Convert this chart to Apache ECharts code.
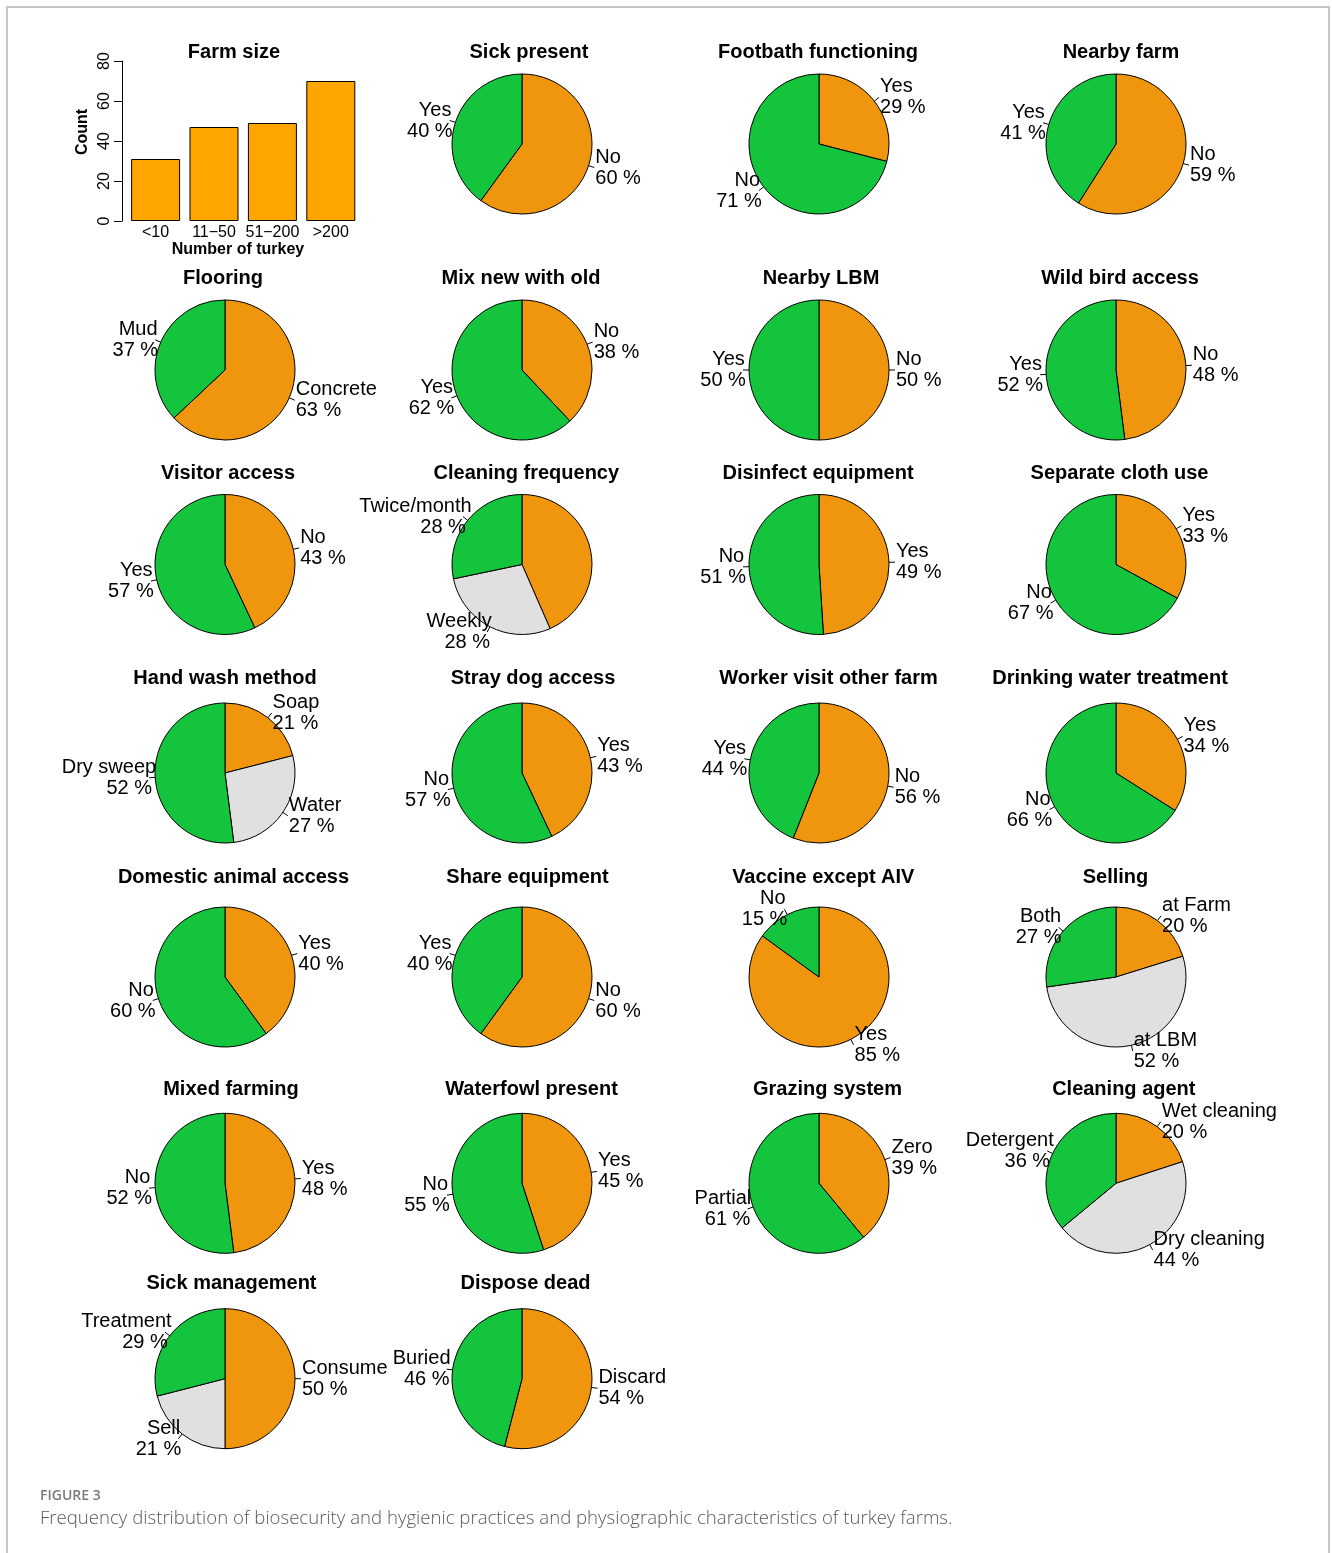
<!DOCTYPE html>
<html>
<head>
<meta charset="utf-8">
<title>Figure 3</title>
<script src="https://cdn.jsdelivr.net/npm/echarts@6/dist/echarts.min.js"></script>
<style>
    html, body { margin: 0; padding: 0; background: #fff; }
    #main { width: 1332px; height: 1553px; }
</style>
</head>
<body>
<div id="main"></div>
<script>
// 农场规模柱状图数据
var sizeCats = ['<10', '11\u221250', '51\u2212200', '>200'];
var sizeCounts = [31, 47, 49, 70];
var sizeTicks = [0, 20, 40, 60, 80];

// 饼图数据（按顺时针顺序：橙色在前，灰色其次，绿色最后）
var pieTitles = [
    'Sick present', 'Footbath functioning', 'Nearby farm',
    'Flooring', 'Mix new with old', 'Nearby LBM', 'Wild bird access',
    'Visitor access', 'Cleaning frequency', 'Disinfect equipment', 'Separate cloth use',
    'Hand wash method', 'Stray dog access', 'Worker visit other farm', 'Drinking water treatment',
    'Domestic animal access', 'Share equipment', 'Vaccine except AIV', 'Selling',
    'Mixed farming', 'Waterfowl present', 'Grazing system', 'Cleaning agent',
    'Sick management', 'Dispose dead'
];
var pieNames = [
    ['No', 'Yes'], ['Yes', 'No'], ['No', 'Yes'],
    ['Concrete', 'Mud'], ['No', 'Yes'], ['No', 'Yes'], ['No', 'Yes'],
    ['No', 'Yes'], ['Twice/week', 'Weekly', 'Twice/month'], ['Yes', 'No'], ['Yes', 'No'],
    ['Soap', 'Water', 'Dry sweep'], ['Yes', 'No'], ['No', 'Yes'], ['Yes', 'No'],
    ['Yes', 'No'], ['No', 'Yes'], ['Yes', 'No'], ['at Farm', 'at LBM', 'Both'],
    ['Yes', 'No'], ['Yes', 'No'], ['Zero', 'Partial'], ['Wet cleaning', 'Dry cleaning', 'Detergent'],
    ['Consume', 'Sell', 'Treatment'], ['Discard', 'Buried']
];
var pieValues = [
    [60, 40], [29, 71], [59, 41],
    [63, 37], [38, 62], [50, 50], [48, 52],
    [43, 57], [43, 28, 28], [49, 51], [33, 67],
    [21, 27, 52], [43, 57], [56, 44], [34, 66],
    [40, 60], [60, 40], [85, 15], [20, 52, 27],
    [48, 52], [45, 55], [39, 61], [20, 44, 36],
    [50, 21, 29], [54, 46]
];

// 版面位置（第一个格子是柱状图）
var colX = [225, 522, 819, 1116];
var rowY = [144, 370, 564.5, 773, 977, 1183.3, 1378.7];
var titleY = [52, 278, 473, 678, 877, 1089, 1283];
var titleX = [
    234, 529, 818, 1121,
    223, 521, 821, 1120,
    228, 526.3, 818, 1119.5,
    225, 533, 828.5, 1110,
    233.5, 527.5, 823.3, 1115.5,
    231, 531.5, 827.5, 1123.8,
    231.5, 525.5
];

var ORANGE = '#F0960E', GREEN = '#14C43C', GREY = '#E0E0E0';
var FONT = '"Liberation Sans", Arial, Helvetica, sans-serif';
var OVER = 0.085; // 左侧标签的字宽偏差（原图右对齐文字略微越过锚点）

var measureCtx = document.createElement('canvas').getContext('2d');
measureCtx.font = '20px ' + FONT;
function textW(s) {
    return measureCtx.measureText(s).width;
}

var chart = echarts.init(document.getElementById('main'), null, {renderer: 'canvas'});

var series = [];
var graphics = [];

// 外框
graphics.push({
    type: 'rect',
    shape: {x: 7, y: 7, width: 1322, height: 1570},
    style: {fill: 'none', stroke: '#c6c6c6', lineWidth: 2},
    silent: true
});

// 柱状图
series.push({
    type: 'bar',
    data: sizeCounts,
    barWidth: 49,
    itemStyle: {color: '#FFA500', borderColor: '#000', borderWidth: 1},
    emphasis: {disabled: true}
});

// 饼图
for (var i = 0; i < pieTitles.length; i++) {
    var cell = i + 1;
    var col = cell % 4, row = Math.floor(cell / 4);
    var cols = pieNames[i].length == 3 ? [ORANGE, GREY, GREEN] : [ORANGE, GREEN];
    var total = 0;
    for (var t = 0; t < pieValues[i].length; t++) total += pieValues[i][t];
    var cum = 0;
    var d = [];
    for (var j = 0; j < pieNames[i].length; j++) {
        var v = pieValues[i][j];
        var mid = (cum + v / 2) / total;
        cum += v;
        var item = {name: pieNames[i][j], value: v, itemStyle: {color: cols[j]}};
        if (mid > 0.5) {
            // 左侧：模拟原图的右对齐偏差
            var w1 = textW(pieNames[i][j]), w2 = textW(v + ' %');
            var wm = Math.max(w1, w2);
            item.label = {
                formatter: '{a|' + pieNames[i][j] + '}\n{b|' + v + ' %}',
                distanceToLabelLine: 1 - OVER * wm,
                rich: {
                    a: {fontFamily: FONT, fontSize: 20, lineHeight: 21, color: '#000', padding: [0, OVER * (wm - w1), 0, 0]},
                    b: {fontFamily: FONT, fontSize: 20, lineHeight: 21, color: '#000', padding: [0, OVER * (wm - w2), 0, 0]}
                }
            };
        }
        d.push(item);
    }
    series.push({
        type: 'pie',
        center: [colX[col], rowY[row]],
        radius: 70,
        startAngle: 90,
        clockwise: true,
        avoidLabelOverlap: false,
        label: {
            show: true,
            position: 'outside',
            formatter: '{b}\n{c} %',
            fontFamily: FONT,
            fontSize: 20,
            lineHeight: 21,
            color: '#000',
            distanceToLabelLine: 1
        },
        labelLine: {show: true, length: 6, length2: 0, lineStyle: {color: '#000', width: 1}},
        itemStyle: {borderColor: '#000', borderWidth: 1},
        emphasis: {disabled: true},
        data: d
    });
}

// 标题
graphics.push({
    type: 'text', x: titleX[0], y: titleY[0], silent: true,
    style: {text: 'Farm size', font: 'bold 20px ' + FONT, fill: '#000', align: 'center', verticalAlign: 'middle'}
});
for (var k = 0; k < pieTitles.length; k++) {
    var c = k + 1;
    graphics.push({
        type: 'text', x: titleX[c], y: titleY[Math.floor(c / 4)], silent: true,
        style: {text: pieTitles[k], font: 'bold 20px ' + FONT, fill: '#000', align: 'center', verticalAlign: 'middle'}
    });
}

// 柱状图坐标轴标题
graphics.push({
    type: 'text', x: 238, y: 250, silent: true,
    style: {text: 'Number of turkey', font: 'bold 16px ' + FONT, fill: '#000', align: 'center', verticalAlign: 'middle'}
});
graphics.push({
    type: 'text', x: 83, y: 132, rotation: Math.PI / 2, silent: true,
    style: {text: 'Count', font: 'bold 16px ' + FONT, fill: '#000', align: 'center', verticalAlign: 'middle'}
});

// 图注
graphics.push({
    type: 'text', x: 40, y: 1496, silent: true,
    style: {text: 'FIGURE 3', font: '600 14px "Open Sans", sans-serif', fill: '#7a7a7a', align: 'left', verticalAlign: 'middle'}
});
graphics.push({
    type: 'text', x: 40, y: 1519, silent: true,
    style: {
        text: 'Frequency distribution of biosecurity and hygienic practices and physiographic characteristics of turkey farms.',
        font: '300 18.6px "Open Sans", sans-serif', fill: '#5a5a5a', align: 'left', verticalAlign: 'middle'
    }
});

var option = {
    backgroundColor: '#fff',
    animation: false,
    grid: {left: 126.4, top: 61, width: 233.6, height: 160},
    xAxis: {
        type: 'category',
        data: sizeCats,
        axisLine: {show: false},
        axisTick: {show: false},
        axisLabel: {fontFamily: FONT, fontSize: 16, color: '#000', margin: 4, interval: 0}
    },
    yAxis: {
        type: 'value',
        min: sizeTicks[0],
        max: sizeTicks[sizeTicks.length - 1],
        interval: 20,
        offset: 4.4,
        axisLine: {show: true, lineStyle: {color: '#000', width: 1}},
        axisTick: {show: true, length: 8, lineStyle: {color: '#000'}},
        axisLabel: {fontFamily: FONT, fontSize: 16, color: '#000', rotate: 90, margin: 9},
        splitLine: {show: false}
    },
    series: series,
    graphic: graphics
};

chart.setOption(option);
</script>
</body>
</html>
